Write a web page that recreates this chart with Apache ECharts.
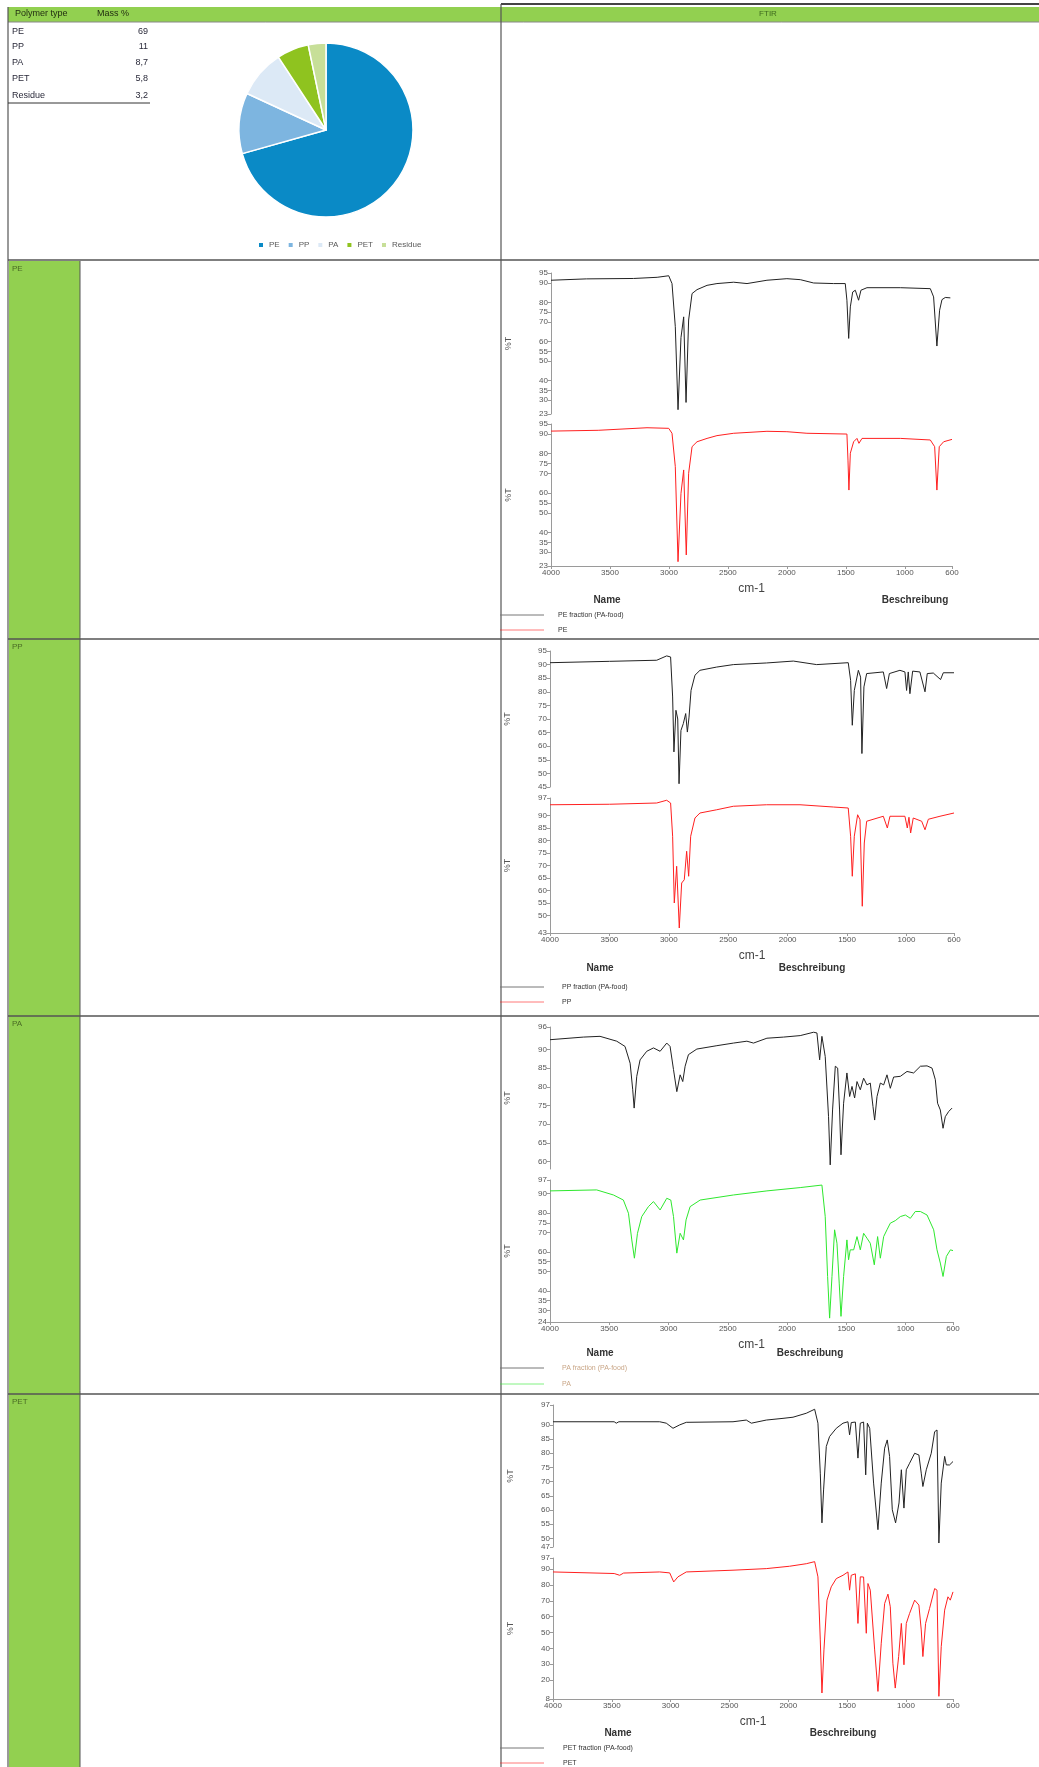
<!DOCTYPE html>
<html>
<head>
<meta charset="utf-8">
<script src="https://cdn.jsdelivr.net/npm/echarts@6/dist/echarts.min.js"></script>
<style>
html,body{margin:0;padding:0;background:#fff;}
#c{width:1039px;height:1767px;}
</style>
</head>
<body>
<div id="c"></div>
<script>
// ---------------- DATA ----------------
const polymerTypes = ['PE', 'PP', 'PA', 'PET', 'Residue'];
const massPct = [69, 11, 8.7, 5.8, 3.2];
const tableHeader = ['Polymer type', 'Mass %'];
const ftirHeader = 'FTIR';
const wnTicks = [4000, 3500, 3000, 2500, 2000, 1500, 1000, 600];

const peTopTicks = [95, 90, 80, 75, 70, 60, 55, 50, 40, 35, 30, 23];
const peBotTicks = [95, 90, 80, 75, 70, 60, 55, 50, 40, 35, 30, 23];
const ppTopTicks = [95, 90, 85, 80, 75, 70, 65, 60, 55, 50, 45];
const ppBotTicks = [97, 90, 85, 80, 75, 70, 65, 60, 55, 50, 43];
const paTopTicks = [96, 90, 85, 80, 75, 70, 65, 60, 58];
const paBotTicks = [97, 90, 80, 75, 70, 60, 55, 50, 40, 35, 30, 24];
const petTopTicks = [97, 90, 85, 80, 75, 70, 65, 60, 55, 50, 47];
const petBotTicks = [97, 90, 80, 70, 60, 50, 40, 30, 20, 8];

const legendNames = {
  PE: ['PE fraction (PA-food)', 'PE'],
  PP: ['PP fraction (PA-food)', 'PP'],
  PA: ['PA fraction (PA-food)', 'PA'],
  PET: ['PET fraction (PA-food)', 'PET']
};

const peFrac = [[4000,91.3],[3700,92],[3300,92.2],[3100,92.8],[3002,93.6],[2974,89.6],[2946,67.6],[2923,25.2],[2898,62],[2875,72.6],[2855,28.9],[2833,71],[2804,84.5],[2762,86.5],[2677,88.7],[2593,89.6],[2451,90.3],[2338,89.6],[2169,91.3],[2000,92.1],[1886,91.6],[1773,89.9],[1604,89.6],[1505,89.6],[1491,81.1],[1476,61.6],[1462,77.7],[1442,85.3],[1420,86.2],[1392,81.1],[1372,86.2],[1321,87.5],[1038,87.5],[784,87],[756,82.8],[728,57.7],[705,76],[685,81.4],[657,82.5],[614,82.3]];
const peRef = [[4000,91.4],[3600,91.8],[3186,93.1],[3002,92.8],[2974,90.3],[2946,73.4],[2923,25.2],[2898,59.8],[2875,71.7],[2853,28.6],[2833,70],[2804,83.5],[2762,86],[2677,87.7],[2593,89.1],[2451,90.3],[2169,91.3],[2000,91.1],[1830,90.3],[1491,89.9],[1482,76.7],[1474,61.5],[1462,80.2],[1434,86],[1406,87.7],[1389,85.2],[1363,87.7],[1038,87.7],[784,86.9],[747,83.5],[728,61.5],[708,83.5],[671,86],[600,87.2]];

const ppFrac = [[4000,90.7],[3500,91.2],[3102,91.6],[3018,93.2],[2985,92.8],[2968,78.1],[2957,57.9],[2940,73.2],[2925,70],[2914,46.2],[2898,65.8],[2878,68.3],[2858,72],[2844,65.2],[2830,70.7],[2813,80.5],[2780,86.1],[2738,87.9],[2597,89.1],[2457,90],[2177,90.6],[1952,91.3],[1756,90],[1490,90.7],[1470,84.2],[1456,67.7],[1439,80.5],[1405,87.9],[1386,85.4],[1375,57.3],[1358,81.8],[1335,86.7],[1195,87.3],[1167,81.2],[1144,86.7],[1055,87.9],[1013,87.3],[999,80.5],[985,87.3],[971,79.3],[948,87.6],[887,87.3],[844,80],[825,86.7],[774,86.9],[713,84.5],[690,87],[600,87]];
const ppRef = [[4000,94.3],[3500,94.5],[3102,95],[3018,96.1],[2985,95],[2968,81.7],[2954,55],[2934,69.7],[2912,45],[2892,63],[2870,64.3],[2850,75.7],[2833,65.7],[2816,81.7],[2780,89],[2738,91],[2597,92.3],[2457,93.7],[2177,94.3],[1896,94.3],[1616,93.4],[1490,93],[1470,81.7],[1456,65.7],[1439,81.7],[1411,90.3],[1391,88.3],[1372,53.7],[1355,79],[1335,87.7],[1195,89.7],[1161,85],[1139,89.7],[1013,89.7],[993,85],[979,89.3],[965,83],[943,89],[872,87.7],[844,84.3],[816,88.5],[718,89.7],[600,91]];

const paFrac = [[4000,92.6],[3719,93.3],[3578,93.5],[3437,92.2],[3367,90.8],[3324,86.3],[3302,79.2],[3290,74.3],[3268,82.8],[3240,87.2],[3184,89.5],[3127,90.4],[3071,89.5],[3015,91.7],[2987,90.8],[2958,84.6],[2930,78.7],[2902,83.2],[2880,81.4],[2860,85.5],[2832,88.6],[2761,90.1],[2592,91],[2452,91.7],[2339,92.2],[2283,91.7],[2170,93],[2030,93.3],[1889,93.7],[1776,94.6],[1748,94.4],[1725,87.2],[1706,93.5],[1678,88.1],[1650,72],[1636,59.1],[1616,73.8],[1593,85.5],[1573,85],[1557,73.8],[1545,61.8],[1523,75.6],[1495,83.7],[1472,77.4],[1452,80.1],[1430,77],[1410,81.4],[1382,79.2],[1354,82.3],[1326,80.5],[1298,81],[1275,74.7],[1261,71.1],[1241,77.4],[1213,81],[1185,80.5],[1157,83.2],[1129,79.6],[1101,82.6],[1044,82.8],[988,84.1],[932,83.7],[875,85.5],[819,85.6],[777,85],[749,81.9],[730,75.6],[707,73.8],[684,68.9],[665,72],[636,73.4],[608,74.3]];
const paRef = [[4000,91.4],[3606,91.9],[3465,89.3],[3381,86.7],[3338,79.9],[3310,66.2],[3288,56.8],[3262,69.6],[3226,78.2],[3170,83.3],[3127,85.9],[3071,81.6],[3015,87.6],[2981,86.7],[2958,78.2],[2930,59.4],[2902,69.6],[2874,66.2],[2852,76.5],[2818,83.3],[2733,86.7],[2452,89.3],[2170,91.4],[1889,93.1],[1706,94.4],[1692,93.6],[1678,78.2],[1658,47.4],[1641,26],[1621,47.4],[1599,71.4],[1579,64.5],[1560,44],[1545,26.9],[1523,47.4],[1495,66.2],[1481,56],[1467,61.1],[1438,61.1],[1410,67.9],[1382,61.1],[1354,69.6],[1326,67.1],[1298,64.5],[1264,53.4],[1236,67.9],[1213,56.8],[1185,67.9],[1157,71.4],[1129,74.8],[1087,76.1],[1044,78.2],[1002,79],[960,77.3],[918,80.8],[875,80.8],[819,79],[763,71.4],[735,61.1],[707,54.3],[684,47.4],[656,57.7],[622,61.1],[600,60.7]];

const petFrac = [[4000,91.1],[3480,91.1],[3462,90.6],[3440,91.1],[3093,91.1],[3037,90.6],[2980,88.8],[2923,90],[2867,90.9],[2470,91.1],[2357,91.7],[2314,90.6],[2187,91.7],[2045,92.3],[1960,92.7],[1847,94.1],[1776,95.5],[1748,90.6],[1728,73],[1714,55.5],[1700,67.1],[1677,82.4],[1649,85.9],[1592,88.8],[1535,90.6],[1493,91.1],[1479,86.5],[1465,90.8],[1430,91],[1408,78.3],[1388,90.6],[1360,91],[1342,72.4],[1328,90.6],[1308,88.8],[1275,69.5],[1238,53.1],[1210,69.5],[1181,81.8],[1159,84.7],[1139,78.9],[1116,60.1],[1088,55.5],[1059,62.5],[1039,74.2],[1017,60.7],[997,74.2],[969,76.5],[926,80],[890,79.4],[870,73],[856,68.3],[827,74.2],[785,80],[756,87.6],[736,88.2],[720,48.4],[700,69.5],[671,78.9],[657,75.9],[629,75.9],[600,77.1]];
const petRef = [[4000,88.2],[3480,87.2],[3433,86.1],[3400,87.5],[3093,88.2],[3008,87.6],[2974,81.9],[2938,85.1],[2867,88.2],[2470,89.3],[2187,90.3],[1989,91.8],[1847,93.4],[1776,94.7],[1748,85.1],[1728,45.3],[1714,11.8],[1697,39],[1671,70.4],[1635,78.8],[1592,84],[1535,86.1],[1493,88.2],[1479,76.7],[1465,86.1],[1430,87],[1408,55.7],[1388,85.1],[1360,85],[1337,49.5],[1323,80.9],[1303,76.7],[1266,39],[1238,12.8],[1210,43.2],[1181,68.3],[1153,74.2],[1133,66.2],[1111,30.6],[1091,14.9],[1062,34.8],[1039,55.7],[1017,29.6],[997,55.7],[969,62],[926,70.4],[890,67.3],[870,51.6],[856,34.8],[833,55.7],[799,65.2],[756,77.7],[736,76.7],[720,9.7],[700,41.1],[671,64.1],[643,72.5],[623,70.4],[600,75.6]];

// ---------------- LAYOUT ----------------
const pieColors = ['#0a8ac6', '#7db5e0', '#dce9f6', '#8fc31f', '#c7df98'];
const FONT = 'Liberation Sans, Arial, sans-serif';

const panels = [
  {key:'PE', x:551, w:401, tY:273, tH:141, bY:424, bH:142, tMin:23, tMax:95, bMin:23, bMax:95,
   tTicks:peTopTicks, bTicks:peBotTicks, sample:peFrac, ref:peRef, refColor:'#ff2020',
   legY:[615,630], legTX:558, nameXY:[607,600], descXY:[915,600], rowY:262, legColor:'#333'},
  {key:'PP', x:550, w:404, tY:651, tH:136, bY:798, bH:135, tMin:45, tMax:95, bMin:43, bMax:97,
   tTicks:ppTopTicks, bTicks:ppBotTicks, sample:ppFrac, ref:ppRef, refColor:'#ff2020',
   legY:[987,1002], legTX:562, nameXY:[600,968], descXY:[812,968], rowY:640, legColor:'#333'},
  {key:'PA', x:550, w:403, tY:1027, tH:142, bY:1180, bH:142, tMin:58, tMax:96, bMin:24, bMax:97,
   tTicks:paTopTicks, bTicks:paBotTicks, sample:paFrac, ref:paRef, refColor:'#2ee82e',
   legY:[1368,1384], legTX:562, nameXY:[600,1353], descXY:[810,1353], rowY:1017, legColor:'#c9a687'},
  {key:'PET', x:553, w:400, tY:1405, tH:142, bY:1558, bH:141, tMin:47, tMax:97, bMin:8, bMax:97,
   tTicks:petTopTicks, bTicks:petBotTicks, sample:petFrac, ref:petRef, refColor:'#ff2020',
   legY:[1748,1763], legTX:563, nameXY:[618,1733], descXY:[843,1733], rowY:1395, legColor:'#333'}
];

const grids = [], xAxes = [], yAxes = [], series = [];
const graphics = [];
const plain = v => String(v);

function yAxisCfg(gi, min, max, ticks) {
  return {
    type:'value', gridIndex:gi, min:min, max:max,
    name:'%T', nameLocation:'middle', nameGap:38, nameRotate:90,
    nameTextStyle:{fontSize:9, color:'#555', fontFamily:FONT},
    axisLine:{show:true, lineStyle:{color:'#9a9a9a', width:1}},
    axisTick:{show:true, length:3, customValues:ticks, lineStyle:{color:'#9a9a9a'}},
    axisLabel:{fontSize:8, color:'#555', margin:3, fontFamily:FONT, customValues:ticks, formatter:plain},
    splitLine:{show:false}
  };
}

panels.forEach((p, i) => {
  const gTop = i*2, gBot = i*2+1;
  grids.push({left:p.x, top:p.tY, width:p.w, height:p.tH});
  grids.push({left:p.x, top:p.bY, width:p.w, height:p.bH});
  xAxes.push({type:'value', gridIndex:gTop, min:600, max:4000, inverse:true, show:false});
  xAxes.push({type:'value', gridIndex:gBot, min:600, max:4000, inverse:true,
    name:'cm-1', nameLocation:'middle', nameGap:17,
    nameTextStyle:{fontSize:12, color:'#444', fontFamily:FONT},
    axisLine:{show:true, lineStyle:{color:'#9a9a9a', width:1}},
    axisTick:{show:true, length:3, customValues:wnTicks, lineStyle:{color:'#9a9a9a'}},
    axisLabel:{fontSize:8, color:'#555', margin:3, fontFamily:FONT, customValues:wnTicks, formatter:plain},
    splitLine:{show:false}});
  yAxes.push(yAxisCfg(gTop, p.tMin, p.tMax, p.tTicks));
  yAxes.push(yAxisCfg(gBot, p.bMin, p.bMax, p.bTicks));
  series.push({type:'line', name:legendNames[p.key][0] + ' spectrum', xAxisIndex:gTop, yAxisIndex:gTop, data:p.sample,
    showSymbol:false, lineStyle:{color:'#222', width:1}, itemStyle:{color:'#222'}, animation:false, silent:true});
  series.push({type:'line', name:legendNames[p.key][1] + ' reference spectrum', xAxisIndex:gBot, yAxisIndex:gBot, data:p.ref,
    showSymbol:false, lineStyle:{color:p.refColor, width:1}, itemStyle:{color:p.refColor}, animation:false, silent:true});

  graphics.push({type:'text', x:p.nameXY[0], y:p.nameXY[1], style:{text:'Name', fontSize:10, fontWeight:'bold', fill:'#333', fontFamily:FONT, align:'center', verticalAlign:'middle'}});
  graphics.push({type:'text', x:p.descXY[0], y:p.descXY[1], style:{text:'Beschreibung', fontSize:10, fontWeight:'bold', fill:'#333', fontFamily:FONT, align:'center', verticalAlign:'middle'}});
  graphics.push({type:'line', shape:{x1:500, y1:p.legY[0], x2:544, y2:p.legY[0]}, style:{stroke:'#777', lineWidth:1}});
  graphics.push({type:'line', shape:{x1:500, y1:p.legY[1], x2:544, y2:p.legY[1]}, style:{stroke:p.refColor, lineWidth:1, opacity:0.6}});
  graphics.push({type:'text', x:p.legTX, y:p.legY[0], style:{text:legendNames[p.key][0], fontSize:7, fill:p.legColor, fontFamily:FONT, verticalAlign:'middle'}});
  graphics.push({type:'text', x:p.legTX, y:p.legY[1], style:{text:legendNames[p.key][1], fontSize:7, fill:p.legColor, fontFamily:FONT, verticalAlign:'middle'}});
  graphics.push({type:'text', x:12, y:p.rowY+3, style:{text:p.key, fontSize:8, fill:'#4a6b25', fontFamily:FONT}});
});

const green = '#92d050', lineC = '#555';
graphics.unshift(
  {type:'rect', shape:{x:8, y:7, width:1031, height:15}, style:{fill:green}},
  {type:'rect', shape:{x:9, y:261, width:71, height:1506}, style:{fill:green}},
  {type:'line', shape:{x1:501, y1:4, x2:1039, y2:4}, style:{stroke:'#444', lineWidth:2}},
  {type:'line', shape:{x1:8, y1:22, x2:1039, y2:22}, style:{stroke:'#888', lineWidth:1}},
  {type:'line', shape:{x1:8, y1:7, x2:8, y2:1767}, style:{stroke:lineC, lineWidth:1.2}},
  {type:'line', shape:{x1:501, y1:4, x2:501, y2:1767}, style:{stroke:lineC, lineWidth:1.2}},
  {type:'line', shape:{x1:80, y1:261, x2:80, y2:1767}, style:{stroke:lineC, lineWidth:1}},
  {type:'line', shape:{x1:8, y1:260, x2:1039, y2:260}, style:{stroke:lineC, lineWidth:1.5}},
  {type:'line', shape:{x1:8, y1:639, x2:1039, y2:639}, style:{stroke:lineC, lineWidth:1.5}},
  {type:'line', shape:{x1:8, y1:1016, x2:1039, y2:1016}, style:{stroke:lineC, lineWidth:1.5}},
  {type:'line', shape:{x1:8, y1:1394, x2:1039, y2:1394}, style:{stroke:lineC, lineWidth:1.5}},
  {type:'line', shape:{x1:8, y1:103, x2:150, y2:103}, style:{stroke:'#333', lineWidth:1}}
);
graphics.push({type:'text', x:15, y:14, style:{text:tableHeader[0], fontSize:9, fill:'#1f2a10', fontFamily:FONT, verticalAlign:'middle'}});
graphics.push({type:'text', x:97, y:14, style:{text:tableHeader[1], fontSize:9, fill:'#1f2a10', fontFamily:FONT, verticalAlign:'middle'}});
graphics.push({type:'text', x:768, y:14, style:{text:ftirHeader, fontSize:8, fill:'#3f6a1f', fontFamily:FONT, align:'center', verticalAlign:'middle'}});
const rowYs = [32, 47, 63, 79, 96];
polymerTypes.forEach((t, i) => {
  graphics.push({type:'text', x:12, y:rowYs[i], style:{text:t, fontSize:9, fill:'#2a2a3a', fontFamily:FONT, verticalAlign:'middle'}});
  graphics.push({type:'text', x:148, y:rowYs[i], style:{text:String(massPct[i]).replace('.', ','), fontSize:9, fill:'#2a2a3a', fontFamily:FONT, align:'right', verticalAlign:'middle'}});
});

series.push({
  type:'pie', name:'Mass %', center:[326,130], radius:87, startAngle:90, clockwise:true,
  label:{show:false}, labelLine:{show:false}, animation:false, silent:true,
  itemStyle:{borderColor:'#fff', borderWidth:1.5},
  data: polymerTypes.map((n, i) => ({name:n, value:massPct[i], itemStyle:{color:pieColors[i]}}))
});

const chart = echarts.init(document.getElementById('c'), null, {renderer:'canvas', width:1039, height:1767});
chart.setOption({
  backgroundColor:'#fff',
  animation:false,
  textStyle:{fontFamily:FONT},
  legend:{data:polymerTypes, left:252, top:236, itemWidth:6, itemHeight:6, itemGap:7, icon:'rect',
    selectedMode:false, textStyle:{fontSize:8, color:'#595959', fontFamily:FONT}},
  grid:grids, xAxis:xAxes, yAxis:yAxes, series:series, graphic:graphics
});
</script>
</body>
</html>
